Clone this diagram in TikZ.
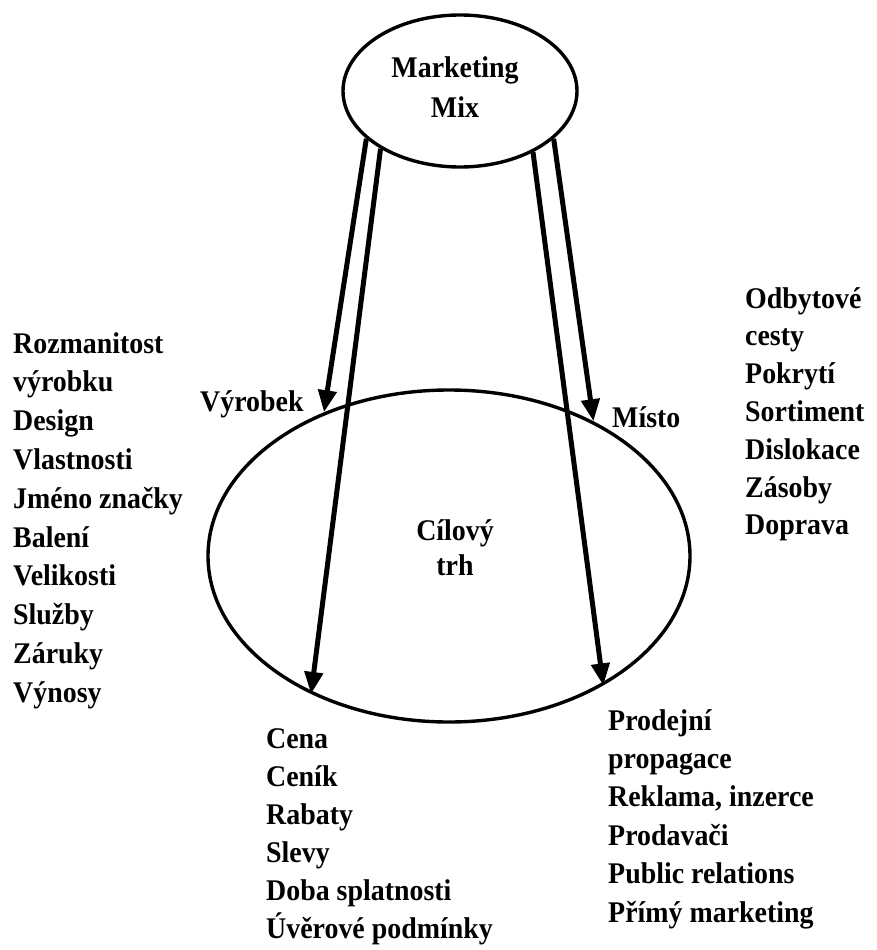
\documentclass[tikz,border=0pt]{standalone}
\usepackage{fontspec}
\setmainfont{Liberation Serif}[FakeStretch=0.93]
\usetikzlibrary{shapes.geometric,arrows.meta}

\begin{document}
\begin{tikzpicture}[x=1pt, y=-1pt,
  oval/.style={ellipse, draw, line width=3.4pt, inner sep=0pt},
  item/.style={font=\fontsize{30}{38}\selectfont\bfseries, anchor=base west, inner sep=0pt},
  arr/.style={-{Triangle[length=22pt,width=18pt]}, line width=5pt}
]
  \useasboundingbox (0,0) rectangle (876,950);
  % the two ellipses
  \node[oval, minimum width=234pt, minimum height=152pt] (mix) at (460,91) {};
  \node[oval, minimum width=482pt, minimum height=332pt] (trh) at (449,556) {};
  \node[font=\fontsize{30}{40}\selectfont\bfseries, align=center, inner sep=0pt] (mixtxt) at (455,87) {Marketing\\Mix};
  \node[font=\fontsize{30}{35}\selectfont\bfseries, align=center, inner sep=0pt] (trhtxt) at (455,547.5) {Cílový\\trh};
  % arrows
  \draw[arr] (mix.207) -- (trh.131);
  \draw[arr] (mix.216) -- (trh.225);
  \draw[arr] (mix.320) -- (trh.320.5);
  \draw[arr] (mix.333) -- (trh.43);
  \node[item] (vyr) at (200,411) {Výrobek};
  \node[item] (mis) at (612,427) {Místo};
  % lists
  \foreach \t [count=\i] in {Rozmanitost, výrobku, Design, Vlastnosti, Jméno značky, Balení, Velikosti, Služby, Záruky, Výnosy}
    \node[item] (pr\i) at (13,{353+(\i-1)*38.8}) {\t};
  \foreach \t [count=\i] in {Odbytové, cesty, Pokrytí, Sortiment, Dislokace, Zásoby, Doprava}
    \node[item] (pl\i) at (745,{308+(\i-1)*37.8}) {\t};
  \foreach \t [count=\i] in {Cena, Ceník, Rabaty, Slevy, Doba splatnosti, Úvěrové podmínky}
    \node[item] (ce\i) at (266,{748+(\i-1)*38}) {\t};
  \foreach \t [count=\i] in {Prodejní, propagace, {Reklama, inzerce}, Prodavači, Public relations, Přímý marketing}
    \node[item] (po\i) at (608,{730+(\i-1)*38.4}) {\t};
\end{tikzpicture}
\end{document}
